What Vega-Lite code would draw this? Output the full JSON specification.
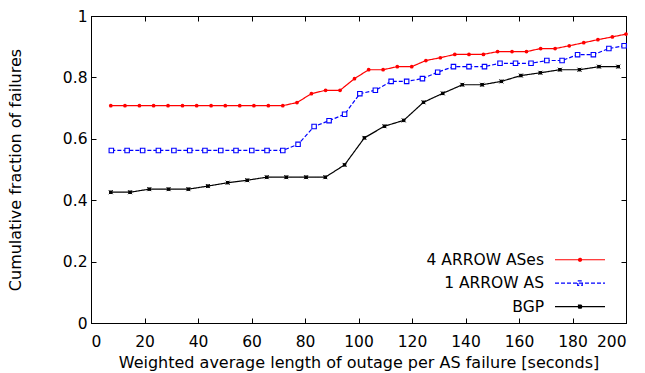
{
  "$schema": "https://vega.github.io/schema/vega-lite/v6.json",
  "width": 535,
  "height": 307,
  "autosize": {"type": "none"},
  "padding": {"left": 91, "top": 16, "right": 19, "bottom": 50},
  "background": "white",
  "config": {
    "font": "DejaVu Sans",
    "view": {"stroke": "black", "strokeWidth": 1},
    "axis": {
      "grid": false,
      "domainColor": "black",
      "tickColor": "black",
      "labelColor": "black",
      "titleColor": "black",
      "labelFont": "DejaVu Sans",
      "titleFont": "DejaVu Sans",
      "labelFontSize": 15.5,
      "titleFontSize": 16,
      "titleFontWeight": "normal",
      "tickSize": -5
    }
  },
  "data": {"values": [
    {"s": "4 ARROW ASes", "x": 7.4, "y": 0.708},
    {"s": "4 ARROW ASes", "x": 12.7, "y": 0.708},
    {"s": "4 ARROW ASes", "x": 18.1, "y": 0.708},
    {"s": "4 ARROW ASes", "x": 23.4, "y": 0.708},
    {"s": "4 ARROW ASes", "x": 28.8, "y": 0.708},
    {"s": "4 ARROW ASes", "x": 34.2, "y": 0.708},
    {"s": "4 ARROW ASes", "x": 39.5, "y": 0.708},
    {"s": "4 ARROW ASes", "x": 44.9, "y": 0.708},
    {"s": "4 ARROW ASes", "x": 50.2, "y": 0.708},
    {"s": "4 ARROW ASes", "x": 55.6, "y": 0.708},
    {"s": "4 ARROW ASes", "x": 60.9, "y": 0.708},
    {"s": "4 ARROW ASes", "x": 66.3, "y": 0.708},
    {"s": "4 ARROW ASes", "x": 71.7, "y": 0.708},
    {"s": "4 ARROW ASes", "x": 77.0, "y": 0.718},
    {"s": "4 ARROW ASes", "x": 82.4, "y": 0.747},
    {"s": "4 ARROW ASes", "x": 87.7, "y": 0.758},
    {"s": "4 ARROW ASes", "x": 93.1, "y": 0.758},
    {"s": "4 ARROW ASes", "x": 98.5, "y": 0.796},
    {"s": "4 ARROW ASes", "x": 103.8, "y": 0.825},
    {"s": "4 ARROW ASes", "x": 109.2, "y": 0.825},
    {"s": "4 ARROW ASes", "x": 114.5, "y": 0.835},
    {"s": "4 ARROW ASes", "x": 119.9, "y": 0.835},
    {"s": "4 ARROW ASes", "x": 125.2, "y": 0.855},
    {"s": "4 ARROW ASes", "x": 130.6, "y": 0.864},
    {"s": "4 ARROW ASes", "x": 136.0, "y": 0.875},
    {"s": "4 ARROW ASes", "x": 141.3, "y": 0.875},
    {"s": "4 ARROW ASes", "x": 146.7, "y": 0.875},
    {"s": "4 ARROW ASes", "x": 152.0, "y": 0.884},
    {"s": "4 ARROW ASes", "x": 157.4, "y": 0.884},
    {"s": "4 ARROW ASes", "x": 162.8, "y": 0.884},
    {"s": "4 ARROW ASes", "x": 168.1, "y": 0.894},
    {"s": "4 ARROW ASes", "x": 173.5, "y": 0.894},
    {"s": "4 ARROW ASes", "x": 178.8, "y": 0.903},
    {"s": "4 ARROW ASes", "x": 184.2, "y": 0.913},
    {"s": "4 ARROW ASes", "x": 189.5, "y": 0.923},
    {"s": "4 ARROW ASes", "x": 194.9, "y": 0.932},
    {"s": "4 ARROW ASes", "x": 200.0, "y": 0.941},
    {"s": "1 ARROW AS", "x": 7.6, "y": 0.562},
    {"s": "1 ARROW AS", "x": 13.5, "y": 0.562},
    {"s": "1 ARROW AS", "x": 19.3, "y": 0.562},
    {"s": "1 ARROW AS", "x": 25.2, "y": 0.562},
    {"s": "1 ARROW AS", "x": 31.0, "y": 0.562},
    {"s": "1 ARROW AS", "x": 36.9, "y": 0.562},
    {"s": "1 ARROW AS", "x": 42.6, "y": 0.562},
    {"s": "1 ARROW AS", "x": 48.5, "y": 0.562},
    {"s": "1 ARROW AS", "x": 54.2, "y": 0.562},
    {"s": "1 ARROW AS", "x": 60.1, "y": 0.562},
    {"s": "1 ARROW AS", "x": 65.8, "y": 0.562},
    {"s": "1 ARROW AS", "x": 71.7, "y": 0.562},
    {"s": "1 ARROW AS", "x": 77.4, "y": 0.582},
    {"s": "1 ARROW AS", "x": 83.4, "y": 0.640},
    {"s": "1 ARROW AS", "x": 89.0, "y": 0.659},
    {"s": "1 ARROW AS", "x": 94.8, "y": 0.680},
    {"s": "1 ARROW AS", "x": 100.5, "y": 0.747},
    {"s": "1 ARROW AS", "x": 106.3, "y": 0.758},
    {"s": "1 ARROW AS", "x": 112.2, "y": 0.787},
    {"s": "1 ARROW AS", "x": 118.0, "y": 0.787},
    {"s": "1 ARROW AS", "x": 123.9, "y": 0.796},
    {"s": "1 ARROW AS", "x": 129.6, "y": 0.817},
    {"s": "1 ARROW AS", "x": 135.5, "y": 0.835},
    {"s": "1 ARROW AS", "x": 141.3, "y": 0.835},
    {"s": "1 ARROW AS", "x": 147.1, "y": 0.835},
    {"s": "1 ARROW AS", "x": 152.9, "y": 0.846},
    {"s": "1 ARROW AS", "x": 158.7, "y": 0.846},
    {"s": "1 ARROW AS", "x": 164.5, "y": 0.846},
    {"s": "1 ARROW AS", "x": 170.4, "y": 0.855},
    {"s": "1 ARROW AS", "x": 176.1, "y": 0.855},
    {"s": "1 ARROW AS", "x": 181.9, "y": 0.874},
    {"s": "1 ARROW AS", "x": 187.8, "y": 0.874},
    {"s": "1 ARROW AS", "x": 193.6, "y": 0.894},
    {"s": "1 ARROW AS", "x": 199.3, "y": 0.903},
    {"s": "BGP", "x": 7.4, "y": 0.426},
    {"s": "BGP", "x": 14.6, "y": 0.426},
    {"s": "BGP", "x": 21.8, "y": 0.436},
    {"s": "BGP", "x": 29.0, "y": 0.436},
    {"s": "BGP", "x": 36.4, "y": 0.436},
    {"s": "BGP", "x": 43.7, "y": 0.446},
    {"s": "BGP", "x": 51.1, "y": 0.457},
    {"s": "BGP", "x": 58.4, "y": 0.465},
    {"s": "BGP", "x": 65.7, "y": 0.475},
    {"s": "BGP", "x": 73.0, "y": 0.475},
    {"s": "BGP", "x": 80.4, "y": 0.475},
    {"s": "BGP", "x": 87.6, "y": 0.475},
    {"s": "BGP", "x": 94.8, "y": 0.515},
    {"s": "BGP", "x": 102.2, "y": 0.603},
    {"s": "BGP", "x": 109.7, "y": 0.641},
    {"s": "BGP", "x": 116.9, "y": 0.660},
    {"s": "BGP", "x": 124.3, "y": 0.719},
    {"s": "BGP", "x": 131.5, "y": 0.748},
    {"s": "BGP", "x": 138.8, "y": 0.776},
    {"s": "BGP", "x": 146.2, "y": 0.776},
    {"s": "BGP", "x": 153.4, "y": 0.787},
    {"s": "BGP", "x": 160.7, "y": 0.806},
    {"s": "BGP", "x": 168.0, "y": 0.815},
    {"s": "BGP", "x": 175.3, "y": 0.825},
    {"s": "BGP", "x": 182.6, "y": 0.825},
    {"s": "BGP", "x": 189.9, "y": 0.835},
    {"s": "BGP", "x": 197.1, "y": 0.835}
  ]},
  "resolve": {"axis": {"x": "independent", "y": "independent"}},
  "layer": [
    {
      "mark": {"type": "line", "strokeWidth": 1.2, "clip": true},
      "encoding": {
        "x": {"field": "x", "type": "quantitative",
              "scale": {"domain": [0, 200], "nice": false, "zero": false},
              "axis": {"orient": "bottom", "values": [0, 20, 40, 60, 80, 100, 120, 140, 160, 180, 200],
                       "labelPadding": 16,
                       "title": "Weighted average length of outage per AS failure [seconds]", "titlePadding": 5}},
        "y": {"field": "y", "type": "quantitative",
              "scale": {"domain": [0, 1], "nice": false},
              "axis": {"orient": "left", "values": [0, 0.2, 0.4, 0.6, 0.8, 1], "format": "~g",
                       "labelPadding": 9,
                       "title": "Cumulative fraction of failures", "titlePadding": 39}},
        "color": {"field": "s", "type": "nominal",
                  "scale": {"domain": ["4 ARROW ASes", "1 ARROW AS", "BGP"], "range": ["#ff0000", "#0000ff", "#000000"]},
                  "legend": {
                    "title": null, "orient": "none", "legendX": 453, "legendY": 236,
                    "labelFontSize": 15.5, "labelFont": "DejaVu Sans", "labelColor": "black",
                    "labelAlign": "right",
                    "symbolSize": 100, "symbolStrokeWidth": 1.2, "rowPadding": 6.4, "padding": 0,
                    "encode": {
                      "labels": {"update": {"x": {"value": 0}, "align": {"value": "right"}}},
                      "symbols": {"update": {
                        "x": {"value": 36},
                        "shape": {"signal": "datum.value === '4 ARROW ASes' ? 'M-5,0L5,0M-0.3,0A0.3,0.3 0 1,0 0.3,0A0.3,0.3 0 1,0 -0.3,0Z' : datum.value === '1 ARROW AS' ? 'M-5,0L5,0M-0.45,-0.45L0.45,-0.45L0.45,0.45L-0.45,0.45Z' : 'M-5,0L5,0M-0.35,-0.35L0.35,0.35M-0.35,0.35L0.35,-0.35M-0.3,-0.3L0.3,-0.3L0.3,0.3L-0.3,0.3Z'"},
                        "fill": {"signal": "datum.value === '4 ARROW ASes' ? '#ff0000' : datum.value === '1 ARROW AS' ? '#ffffff' : '#000000'"}
                      }}
                    }
                  }},
        "strokeDash": {"field": "s", "type": "nominal",
                       "scale": {"domain": ["4 ARROW ASes", "1 ARROW AS", "BGP"], "range": [[1, 0], [4, 2], [1, 0]]}}
      }
    },
    {
      "transform": [{"filter": "datum.s === '4 ARROW ASes'"}],
      "mark": {"type": "point", "shape": "circle", "size": 14, "filled": true, "color": "#ff0000", "opacity": 1},
      "encoding": {
        "x": {"field": "x", "type": "quantitative",
              "axis": {"orient": "top", "values": [0, 20, 40, 60, 80, 100, 120, 140, 160, 180, 200], "labels": false, "title": null}},
        "y": {"field": "y", "type": "quantitative",
              "axis": {"orient": "right", "values": [0, 0.2, 0.4, 0.6, 0.8, 1], "labels": false, "title": null}}
      }
    },
    {
      "transform": [{"filter": "datum.s === '1 ARROW AS'"}],
      "mark": {"type": "point", "shape": "square", "size": 20, "filled": false, "stroke": "#0000ff", "fill": "#ffffff", "strokeWidth": 1.1, "opacity": 1},
      "encoding": {
        "x": {"field": "x", "type": "quantitative", "axis": null},
        "y": {"field": "y", "type": "quantitative", "axis": null}
      }
    },
    {
      "transform": [{"filter": "datum.s === 'BGP'"}],
      "mark": {"type": "point", "shape": "M-1,-1L1,1M-1,1L1,-1M-0.6,-0.6L0.6,-0.6L0.6,0.6L-0.6,0.6Z", "size": 16, "filled": true, "fill": "#000000", "stroke": "#000000", "strokeWidth": 1, "opacity": 1},
      "encoding": {
        "x": {"field": "x", "type": "quantitative", "axis": null},
        "y": {"field": "y", "type": "quantitative", "axis": null}
      }
    }
  ]
}
